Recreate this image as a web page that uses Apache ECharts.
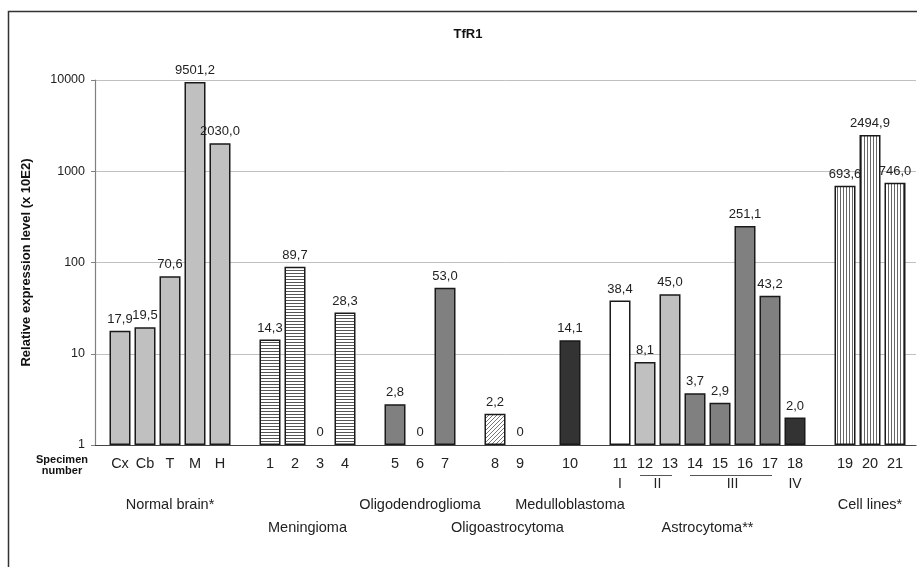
<!DOCTYPE html>
<html>
<head>
<meta charset="utf-8">
<script src="https://cdn.jsdelivr.net/npm/echarts@6/dist/echarts.min.js"></script>
<style>html,body{margin:0;padding:0;background:#fff;}#c{width:917px;height:567px;}</style>
</head>
<body>
<div id="c"></div>
<script>
// ---- data ----
const categories = ['Cx','Cb','T','M','H','','1','2','3','4','','5','6','7','','8','9','','10','','11','12','13','14','15','16','17','18','','19','20','21'];
const values = [17.9,19.5,70.6,9501.2,2030.0,null,14.3,89.7,0,28.3,null,2.8,0,53.0,null,2.2,0,null,14.1,null,38.4,8.1,45.0,3.7,2.9,251.1,43.2,2.0,null,693.6,2494.9,746.0];
const fills = ['light','light','light','light','light','','hstripe','hstripe','hstripe','hstripe','','dark','dark','dark','','hatch','hatch','','black','','white','light','light','dark','dark','dark','dark','black','','vstripe','vstripe','vstripe'];
const yTicks = [1,10,100,1000,10000];
const groupNames = ['Normal brain*','Meningioma','Oligodendroglioma','Oligoastrocytoma','Medulloblastoma','Astrocytoma**','Cell lines*'];
const groupSpans = [['Cx','H'],['1','4'],['5','7'],['8','9'],['10','10'],['11','18'],['19','21']];
const gradeNames = ['I','II','III','IV'];
const gradeSpans = [['11','11'],['12','13'],['14','17'],['18','18']];

// ---- styles ----
const FONT = 'Liberation Sans, Arial, sans-serif';
function pattern(kind){
  const c = document.createElement('canvas');
  const g = c.getContext('2d');
  if (kind === 'hstripe'){ c.width=4; c.height=3; g.fillStyle='#fff'; g.fillRect(0,0,4,3); g.fillStyle='#555'; g.fillRect(0,0,4,1); }
  else if (kind === 'vstripe'){ c.width=3; c.height=4; g.fillStyle='#fff'; g.fillRect(0,0,3,4); g.fillStyle='#666'; g.fillRect(0,0,1,4); }
  else { c.width=4; c.height=4; g.fillStyle='#fff'; g.fillRect(0,0,4,4); g.strokeStyle='#777'; g.lineWidth=1;
    g.beginPath(); g.moveTo(-1,5); g.lineTo(5,-1); g.stroke(); }
  return {image:c, repeat:'repeat'};
}
const fillMap = {
  light:'#c0c0c0', dark:'#808080', black:'#333333', white:'#ffffff',
  hstripe:pattern('hstripe'), vstripe:pattern('vstripe'), hatch:pattern('hatch')
};

const barData = values.map((v,i)=> (v===null || v===0) ? '-' : {
  value:v, itemStyle:{color:fillMap[fills[i]], borderColor:'#1a1a1a', borderWidth:1.5}
});
const zeroData = values.map((v,i)=> v===0 ? [i,1] : null).filter(d=>d);

const chart = echarts.init(document.getElementById('c'), null, {renderer:'canvas'});
const gridTop = 80, gridBottom = 122;
chart.setOption({
  animation:false,
  grid:[
    {left:95, right:1, top:gridTop, bottom:gridBottom},
    {left:107.5, width:800, top:gridTop, bottom:gridBottom}
  ],
  xAxis:[
    {type:'value', gridIndex:0, min:0, max:1, axisLine:{show:true, onZero:false, lineStyle:{color:'#444', width:1.2}},
     axisTick:{show:false}, axisLabel:{show:false}, splitLine:{show:false}},
    {type:'category', gridIndex:1, data:categories, boundaryGap:true,
     axisLine:{show:false}, axisTick:{show:false},
     axisLabel:{interval:0, fontSize:14.5, color:'#222', fontFamily:FONT, margin:11}}
  ],
  yAxis:[
    {type:'log', logBase:10, min:yTicks[0], max:yTicks[yTicks.length-1], gridIndex:0,
     name:'Relative expression level (x 10E2)', nameLocation:'middle', nameGap:62,
     nameTextStyle:{fontWeight:'bold', fontSize:13, color:'#111', fontFamily:FONT},
     axisLine:{show:true, lineStyle:{color:'#808080', width:1.2}},
     axisTick:{show:true, length:4, lineStyle:{color:'#808080'}},
     axisLabel:{fontSize:12.5, color:'#222', fontFamily:FONT, margin:10, formatter:v=>String(Math.round(v))},
     splitLine:{show:true, lineStyle:{color:'#c0c0c0', width:1}}},
    {type:'log', logBase:10, min:yTicks[0], max:yTicks[yTicks.length-1], gridIndex:1, show:false}
  ],
  series:[
    {type:'bar', xAxisIndex:1, yAxisIndex:1, barWidth:21, data:barData,
     label:{show:true, position:'top', distance:5, fontSize:13, color:'#222', fontFamily:FONT,
       formatter:p=> p.value.toFixed(1).replace('.', ',')}},
    {type:'scatter', xAxisIndex:1, yAxisIndex:1, symbolSize:1, data:zeroData,
     itemStyle:{opacity:1, color:'rgba(0,0,0,0)'},
     label:{show:true, position:'top', distance:6, fontSize:13, color:'#222', opacity:1, fontFamily:FONT, formatter:'0'}}
  ]
});

// ---- annotations anchored to the category axis ----
const idx = name => categories.indexOf(name);
const px = i => chart.convertToPixel({xAxisIndex:1}, i);
const gfx = [
  {type:'rect', shape:{x:8.5, y:11.5, width:1000, height:1000}, style:{fill:null, stroke:'#333', lineWidth:1.5}, silent:true},
  {type:'text', style:{x:468, y:34, text:'TfR1', font:'bold 13px '+FONT, fill:'#111', align:'center', verticalAlign:'middle'}},
  {type:'text', style:{x:62, y:465, text:'Specimen\nnumber', font:'bold 11px '+FONT, fill:'#111', align:'center', verticalAlign:'middle', lineHeight:11}}
];
groupNames.forEach((n,k)=>{
  const a = px(idx(groupSpans[k][0])), b = px(idx(groupSpans[k][1]));
  gfx.push({type:'text', style:{x:(a+b)/2, y: k%2===0 ? 505 : 528, text:n, font:'14.5px '+FONT, fill:'#222', align:'center', verticalAlign:'middle'}});
});
gradeNames.forEach((n,k)=>{
  const a = px(idx(gradeSpans[k][0])), b = px(idx(gradeSpans[k][1]));
  gfx.push({type:'text', style:{x:(a+b)/2, y:484, text:n, font:'14px '+FONT, fill:'#222', align:'center', verticalAlign:'middle'}});
  if (b > a) gfx.push({type:'line', shape:{x1:a-5, y1:475.5, x2:b+2, y2:475.5}, style:{stroke:'#555', lineWidth:1}});
});
chart.setOption({graphic:gfx});
</script>
</body>
</html>
